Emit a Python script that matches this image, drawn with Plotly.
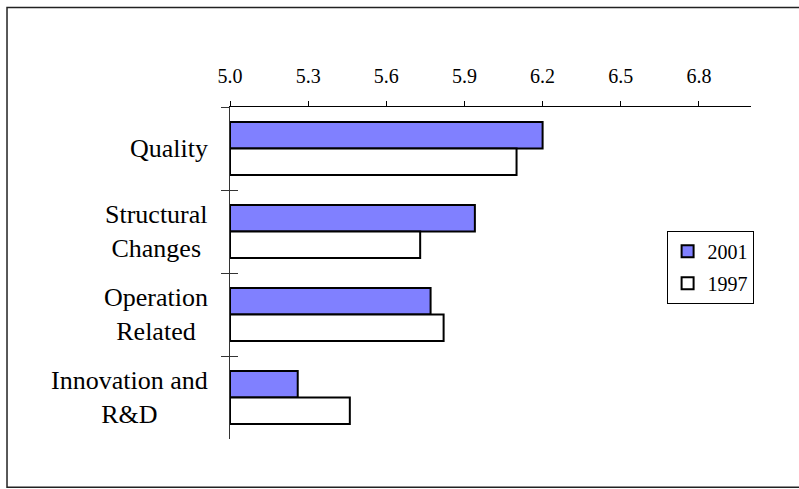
import plotly.graph_objects as go

# Survey scores by area, 2001 vs 1997
categories = ["Quality", "Structural<br>Changes", "Operation<br>Related", "Innovation and<br>R&D"]
scores_2001 = [6.20, 5.94, 5.77, 5.26]
scores_1997 = [6.10, 5.73, 5.82, 5.46]
x_ticks = [5.0, 5.3, 5.6, 5.9, 6.2, 6.5, 6.8]
axis_start = 5.0
axis_end = 7.0

SERIF = "'Liberation Serif', 'DejaVu Serif', serif"

fig = go.Figure()
fig.add_trace(go.Bar(
    name="2001", y=categories, x=[v - axis_start for v in scores_2001], base=axis_start,
    orientation="h", marker=dict(color="#8080FF", line=dict(color="black", width=2)),
    legendgroup="a",
))
fig.add_trace(go.Bar(
    name="1997", y=categories, x=[v - axis_start for v in scores_1997], base=axis_start,
    orientation="h", marker=dict(color="white", line=dict(color="black", width=2)),
    legendgroup="b",
))
# empty trace so the overlay axis carrying the inner tick halves is drawn
fig.add_trace(go.Scatter(x=[], y=[], yaxis="y2", showlegend=False, hoverinfo="skip"))

# centred multi-line category labels
for cat in categories:
    fig.add_annotation(
        x=0, xref="paper", y=cat, yref="y", text=cat, showarrow=False,
        xanchor="right", yanchor="middle", align="center", xshift=-20,
        font=dict(family=SERIF, size=26, color="black"),
    )

n = len(categories)
fig.update_layout(
    width=799, height=489,
    margin=dict(l=230, r=48, t=107, b=50),
    paper_bgcolor="white", plot_bgcolor="white",
    font=dict(family=SERIF, color="black"),
    barmode="group", bargap=0.36, bargroupgap=0,
    showlegend=True,
    legend=dict(
        x=0.838, y=0.627, xanchor="left", yanchor="top",
        bordercolor="black", borderwidth=1, bgcolor="white",
        font=dict(family=SERIF, size=20, color="black"),
        tracegroupgap=3, itemwidth=30,
    ),
    xaxis=dict(
        side="top", range=[axis_start, axis_end], tickvals=x_ticks, tickformat=".1f",
        ticks="outside", ticklen=5, tickcolor="black", ticklabelstandoff=10,
        showline=True, linecolor="black", linewidth=1,
        showgrid=False, zeroline=False,
        tickfont=dict(family=SERIF, size=20, color="black"),
    ),
    yaxis=dict(
        type="category", categoryorder="array", categoryarray=categories,
        autorange="reversed", showticklabels=False,
        ticks="outside", ticklen=8, tickson="boundaries", tickcolor="#333",
        showline=True, linecolor="#333", linewidth=1, showgrid=False,
    ),
    # inner half of the crossing category ticks
    yaxis2=dict(
        overlaying="y", side="left", range=[n - 0.5, -0.5],
        tickvals=[i - 0.5 for i in range(n + 1)], ticks="inside", ticklen=8,
        tickcolor="#333", showticklabels=False, showline=False,
        showgrid=False, zeroline=False,
    ),
    shapes=[dict(
        type="rect", xref="paper", yref="paper",
        x0=-0.428, x1=1.1, y0=-0.145, y1=1.3,
        line=dict(color="#222", width=1.5), fillcolor="rgba(0,0,0,0)", layer="below",
    )],
)

fig.write_html("out.html")
